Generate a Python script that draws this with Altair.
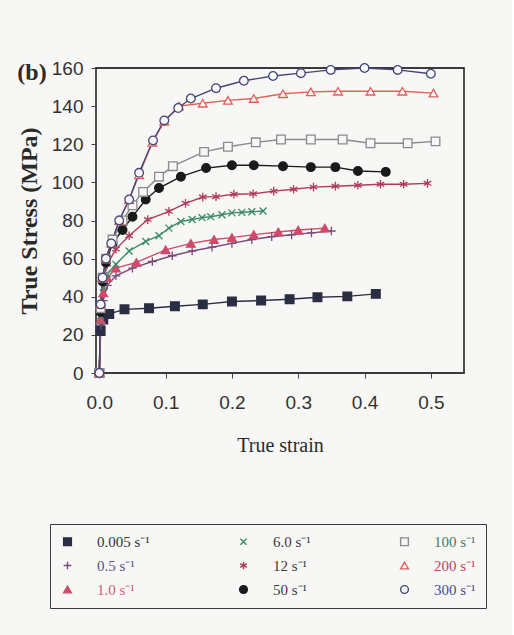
import altair as alt
import pandas as pd

# Strain-rate series (s^-1), their marker styles and colours
rates = ["0.005", "0.5", "1.0", "6.0", "12", "50", "100", "200", "300"]
line_colors = ["#2b2d42", "#7a4a7a", "#d04a6a", "#3a8a6a", "#b03a5a",
               "#1a1a1a", "#8a8a8a", "#e0605a", "#45457a"]
fill_colors = ["#2b2d42", "transparent", "#d04a6a", "transparent", "transparent",
               "#1a1a1a", "#f7f7f5", "#f7f7f5", "#f7f7f5"]
PLUS = "M-1,0H1M0,-1V1"
CROSS = "M-0.8,-0.8L0.8,0.8M-0.8,0.8L0.8,-0.8"
STAR = "M0,-1V1M-0.87,-0.5L0.87,0.5M-0.87,0.5L0.87,-0.5"
shapes = ["square", PLUS, "triangle-up", CROSS, STAR,
          "circle", "square", "triangle-up", "circle"]
label_colors = ["#333333", "#55558a", "#d0607e", "#3c3c3c", "#3c3c3c",
                "#3c3c3c", "#4a7a62", "#c84060", "#4a4a8a"]

# True strain / true stress (MPa) for each rate
strain_0005 = [0, 0.002, 0.006, 0.015, 0.038, 0.075, 0.114, 0.156, 0.2, 0.244, 0.287, 0.329, 0.374, 0.417]
stress_0005 = [0, 22, 28, 31, 33.4, 34, 35, 36, 37.5, 38, 38.7, 39.7, 40.2, 41.5]

strain_05 = [0, 0.002, 0.006, 0.012, 0.025, 0.05, 0.08, 0.11, 0.14, 0.17, 0.2, 0.23, 0.26, 0.29, 0.32, 0.35]
stress_05 = [0, 25, 38, 46, 51, 55, 58.5, 61.5, 64, 66, 68, 70, 71.5, 72.5, 73.5, 74.5]

strain_1 = [0, 0.002, 0.006, 0.012, 0.025, 0.056, 0.1, 0.138, 0.173, 0.2, 0.233, 0.27, 0.3, 0.34]
stress_1 = [0, 28, 42, 50, 55, 58, 64.6, 68, 70, 71, 72.6, 74, 75, 76]

strain_6 = [0, 0.002, 0.006, 0.012, 0.025, 0.045, 0.07, 0.09, 0.105, 0.123, 0.14, 0.155, 0.168, 0.185, 0.2, 0.215, 0.23, 0.247]
stress_6 = [0, 30, 45, 52, 57, 64, 69, 72, 76, 79.5, 80.5, 81.5, 82, 83, 84, 84.3, 84.6, 85]

strain_12 = [0, 0.002, 0.006, 0.012, 0.025, 0.045, 0.073, 0.105, 0.13, 0.156, 0.176, 0.203, 0.232, 0.263, 0.293, 0.323, 0.356, 0.39, 0.424, 0.459, 0.495]
stress_12 = [0, 32, 48, 57, 65, 72, 80.5, 84.8, 89, 92.3, 92.5, 93.8, 94, 95.4, 96.4, 97.5, 98, 98.5, 99, 99, 99.5]

strain_50 = [0, 0.002, 0.005, 0.01, 0.02, 0.035, 0.05, 0.07, 0.09, 0.123, 0.161, 0.2, 0.233, 0.277, 0.319, 0.356, 0.39, 0.432]
stress_50 = [0, 32, 48, 58, 68, 75, 82, 91, 97, 103, 107.5, 109, 109, 108.5, 108, 108, 106, 105.5]

strain_100 = [0, 0.002, 0.005, 0.01, 0.02, 0.035, 0.05, 0.066, 0.09, 0.111, 0.158, 0.194, 0.236, 0.274, 0.319, 0.367, 0.409, 0.465, 0.507]
stress_100 = [0, 34, 50, 60, 70, 80, 88, 95, 103, 108.5, 116, 118.7, 121, 122.5, 122.5, 122.5, 120.5, 120.5, 121.5]

strain_200 = [0, 0.002, 0.005, 0.01, 0.018, 0.03, 0.045, 0.06, 0.08, 0.098, 0.12, 0.156, 0.194, 0.233, 0.277, 0.319, 0.36, 0.409, 0.457, 0.504]
stress_200 = [0, 36, 50, 60, 68, 80, 91, 104, 121, 132, 140, 141.5, 143, 144, 146.5, 147.5, 147.8, 147.8, 147.8, 146.8]

strain_300 = [0, 0.002, 0.005, 0.01, 0.018, 0.03, 0.045, 0.06, 0.081, 0.098, 0.119, 0.138, 0.176, 0.218, 0.262, 0.304, 0.349, 0.4, 0.45, 0.5]
stress_300 = [0, 36, 50, 60, 68, 80, 91, 105, 122, 132.5, 139, 144, 149.4, 153.3, 155.8, 157.3, 159, 160, 159, 157]

strains = [strain_0005, strain_05, strain_1, strain_6, strain_12, strain_50, strain_100, strain_200, strain_300]
stresses = [stress_0005, stress_05, stress_1, stress_6, stress_12, stress_50, stress_100, stress_200, stress_300]

rows = []
for i, r in enumerate(rates):
    for e, s in zip(strains[i], stresses[i]):
        rows.append({"rate": r, "strain": e, "stress": s})
df = pd.DataFrame(rows)

SANS = "Liberation Sans Narrow, Liberation Sans, Arial"
SERIF = "Liberation Serif, Times New Roman, serif"

color_scale = alt.Scale(domain=rates, range=line_colors)
shape_scale = alt.Scale(domain=rates, range=shapes)
fill_scale = alt.Scale(domain=rates, range=fill_colors)

label_expr = " : ".join(
    [f"datum.value == '{r}' ? '{c}'" for r, c in zip(rates, label_colors)]) + " : '#333333'"

# Boxed key under the plot, three entries per column
key = alt.Legend(
    title=None, orient="none", legendX=-46, legendY=456, columns=3,
    labelExpr="datum.label + ' s\u207b\u00b9'",
    labelFont=SERIF, labelFontSize=15, labelColor=alt.ExprRef(expr=label_expr),
    labelOffset=22, symbolSize=60, symbolStrokeWidth=1.4,
    columnPadding=86, rowPadding=8, padding=10,
    strokeColor="#3a3a3a", fillColor="#f7f7f5",
)

x_enc = alt.X("strain:Q",
              scale=alt.Scale(domain=[-0.005, 0.55], nice=False, zero=False),
              axis=alt.Axis(values=[0, 0.1, 0.2, 0.3, 0.4, 0.5], format=".1f",
                            title="True strain", grid=False, domain=False,
                            tickSize=5, tickColor="#444", labelPadding=15,
                            labelFont=SANS, labelFontSize=19, labelColor="#333",
                            titleFont=SERIF, titleFontSize=20, titleFontWeight="normal",
                            titleColor="#2a2a2a", titlePadding=23))
y_enc = alt.Y("stress:Q",
              scale=alt.Scale(domain=[0, 160], nice=False),
              axis=alt.Axis(values=list(range(0, 161, 20)), title="True Stress (MPa)",
                            grid=False, domain=False, tickSize=5, tickColor="#444",
                            labelPadding=8, labelFont=SANS, labelFontSize=19,
                            labelColor="#333", titleFont=SERIF, titleFontSize=24,
                            titleFontWeight="bold", titleColor="#2a2a2a", titlePadding=10))

base = alt.Chart(df).encode(x=x_enc, y=y_enc,
                            color=alt.Color("rate:N", scale=color_scale, legend=key))

curves = base.mark_line(strokeWidth=1.4)
markers = base.mark_point(size=75, strokeWidth=1.3, opacity=1, filled=False).encode(
    shape=alt.Shape("rate:N", scale=shape_scale, legend=key),
    fill=alt.Fill("rate:N", scale=fill_scale, legend=key),
)

chart = alt.layer(curves, markers).properties(
    width=368, height=305,
    title=alt.TitleParams("(b)", anchor="start", frame="bounds", font=SERIF,
                          fontSize=24, fontWeight="bold", color="#2a2a2a",
                          offset=0, dy=26),
    padding={"left": 17, "top": 59, "right": 25, "bottom": 30},
    background="#f7f7f5",
).configure_view(stroke="#3a3a3a", strokeWidth=1.8)

chart.save("out.html", embed_options={"renderer": "svg", "actions": False})
